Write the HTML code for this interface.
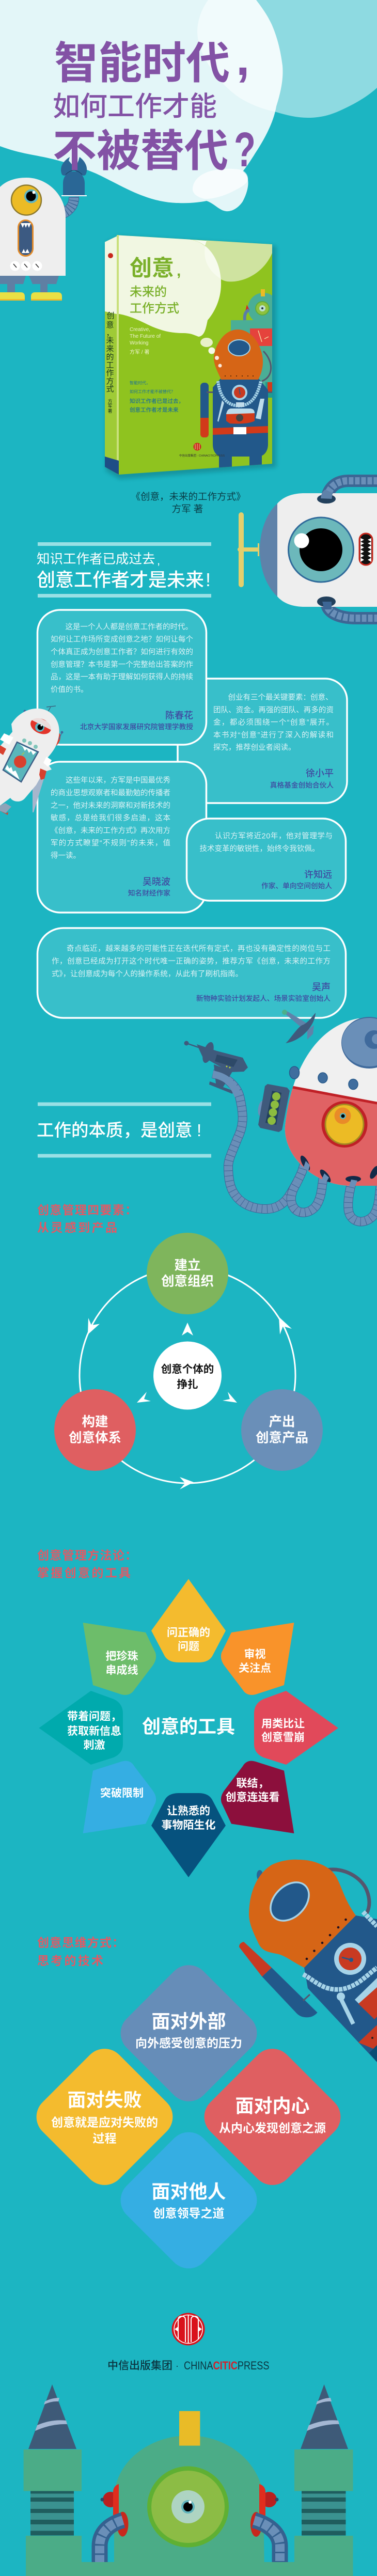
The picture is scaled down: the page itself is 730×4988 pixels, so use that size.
<!DOCTYPE html>
<html lang="zh"><head><meta charset="utf-8"><title>智能时代，如何工作才能不被替代？</title>
<style>
html,body{margin:0;padding:0;background:#1cb5c2}
svg{display:block}
text{font-family:"Liberation Sans","Noto Sans CJK SC",sans-serif}
.t{font-size:14.5px;fill:#dcf2f5}
.n{font-size:18px;fill:#3f49a0;text-anchor:end;font-weight:500}
.s{font-size:13.7px;fill:#3f49a0;text-anchor:end;font-weight:500}
.h{font-size:23px;fill:#e05a66;font-weight:bold}
.w{fill:#fff;font-weight:bold;text-anchor:middle}
.p{font-size:21px}.q{font-size:23px}.b{font-size:36px}.c{font-size:25.5px}
.sp{font-size:15px;fill:#14331a;text-anchor:middle}
</style></head><body>
<svg xmlns="http://www.w3.org/2000/svg" width="730" height="4988" viewBox="0 0 730 4988">
<rect width="730" height="4988" fill="#1cb5c2"/>

<!-- top blobs -->
<path d="M0,0 L0,283 C40,298 70,300 102,308 C130,315 160,325 186,336 C220,352 250,370 279,380 C300,388 325,393 345,393 C365,394 385,392 400,389 C415,394 425,408 438,409 C450,410 462,402 470,390 C478,375 482,360 480,348 C479,340 475,335 470,332 C478,322 486,310 494,297 C515,265 530,235 535,206 C545,175 549,150 547,127 C543,95 536,70 526,47 C517,28 506,13 496,0 Z" fill="#fff" fill-opacity=".88"/>
<path d="M403,0 C390,18 382,40 382,63 C383,82 388,97 396,111 C410,140 435,170 465,190 C490,205 512,212 535,217 C555,223 575,228 596,228 C617,228 635,224 652,217 C680,205 708,190 730,170 L730,0 Z" fill="#fff" fill-opacity=".5"/>
<path d="M373,366 C373,352 385,338 405,332 C425,326 455,325 470,330 C478,335 481,342 480,349 C476,358 465,363 456,368 C440,377 415,386 396,385 C382,382 373,375 373,366 Z" fill="#fff" fill-opacity=".7"/>

<!-- top-left robot -->
<g>
<path d="M116,415 C130,412 144,400 143,381" fill="none" stroke="#3b6695" stroke-width="20"/>
<path d="M116,415 C130,412 144,400 143,381" fill="none" stroke="#6a8fb8" stroke-width="18"/>
<path d="M116,415 C130,412 144,400 143,381" fill="none" stroke="#3b6695" stroke-width="18" stroke-dasharray="1.5 5"/>
<ellipse cx="120" cy="412" rx="5" ry="16" fill="#4a7098" transform="rotate(10 120 412)"/>
<path d="M122,379 L122,355 C122,340 132,332 143,332 C154,332 164,340 164,355 L164,379 Z" fill="#2a6796"/>
<rect x="119" y="378" width="49" height="2" fill="#fff"/>
<path d="M135,304 C122,312 114,325 120,338 C125,343 130,338 139,332 C141,330 142,327 142,327 L139,318 L133,311 Z" fill="#2a6796"/>
<path d="M154,304 C165,312 172,325 166,338 C162,343 156,338 147,332 C145,330 145,327 145,327 L149,318 L152,311 Z" fill="#2a6796"/>
<path d="M127,338 Q143,322 159,338" fill="none" stroke="#173a5c" stroke-width="1"/>
<path d="M0,362 C12,350 30,344 51,344 C92,344 127,378 127,420 L127,534 L0,534 Z" fill="#eeeeee"/>
<ellipse cx="51" cy="387.500" rx="29" ry="29" fill="#ecbb25" stroke="#8d7a2e" stroke-width="2.500"/>
<circle cx="60.500" cy="380" r="13.500" fill="#5fb5c2"/><circle cx="60" cy="380" r="9.500" fill="#000"/><circle cx="65.500" cy="372.500" r="3" fill="#fff"/>
<rect x="35.500" y="426.500" width="28" height="69" rx="14" fill="#3c5a82" stroke="#e28b2a" stroke-width="3"/>
<path d="M40,432 L44,441 L47,434 L50,441 L53,434 L56,441 L60,432 Z M42,490 L46,482 L49,489 L53,482 L57,490 Z" fill="#fff"/>
<circle cx="29" cy="515" r="9.500" fill="#fff"/><circle cx="50" cy="515" r="9.500" fill="#fff"/><circle cx="72" cy="515" r="9.500" fill="#fff"/>
<path d="M26,511 L32,518 M47,511 L53,518 M69,511 L75,518" stroke="#222" stroke-width="1.500"/>
<path d="M0,534 L50,534 L45,550 L0,550 Z M56,534 L114,534 L109,550 L63,550 Z" fill="#5f7fa3"/>
<rect x="14" y="550" width="15" height="17" fill="#5f7fa3"/><rect x="78" y="550" width="14" height="17" fill="#5f7fa3"/>
<path d="M0,566 L40,566 Q48,566 48,574 L48,582 L0,582 Z M68,566 L112,566 Q120,566 120,574 L120,582 L60,582 L60,574 Q60,566 68,566 Z" fill="#e9e044"/>
<rect x="0" y="579" width="48" height="3" fill="#f0ba2a"/><rect x="60" y="579" width="60" height="3" fill="#f0ba2a"/>
</g>

<!-- title -->
<g fill="#8352a5" font-weight="bold">
<text x="105" y="152" font-size="85">智能时代</text>
<text x="457" y="145" font-size="95" style="font-family:'Liberation Sans'">,</text>
<text x="102" y="224" font-size="53" font-weight="500">如何工作才能</text>
<text x="102" y="322" font-size="85">不被替代</text>
<text x="453" y="322" font-size="95" textLength="42" lengthAdjust="spacingAndGlyphs" style="font-family:'Liberation Sans'">?</text>
</g>

<!-- book -->
<polygon points="205,470 230,457 535,476 535,905 232,928 205,912" fill="#0d6d77" opacity=".45" filter="url(#bl)"/>
<defs><filter id="bl"><feGaussianBlur stdDeviation="4"/></filter><clipPath id="front"><polygon points="230,455.500 527,473 527,898 230,919"/></clipPath></defs>
<polygon points="203,468.600 230,455.500 230,919 203,904" fill="#9fcb36"/>
<path d="M203,468.600 L230,455.500 L230,609 L203,603 Z" fill="#f1f7e2"/>
<polygon points="226,455 230,455 230,919 226,917" fill="#c9e07c"/>
<polygon points="203,884 230,892 230,919 203,904" fill="#1e4d86"/>
<polygon points="230,455.500 527,473 527,898 230,919" fill="#8fc31f"/>
<g clip-path="url(#front)">
<path d="M400,463 L527,473 L527,490 C510,530 470,548 440,545 C410,540 390,500 400,463 Z" fill="#cfe3a0"/>
<path d="M230,455 L363,463 C400,466 428,500 428,550 C428,580 415,605 402,620 C398,640 395,650 385,652 C378,650 372,645 354,645 C330,645 310,640 285,628 C265,618 245,610 230,608 Z" fill="#f1f7e2"/>
<path d="M370,464 L400,466 C392,490 395,520 428,540 L428,550 C428,505 405,470 370,464 Z" fill="#f7fbee"/>
<ellipse cx="400" cy="663" rx="12" ry="9" fill="#e8f0c8"/><circle cx="410" cy="679" r="6.500" fill="#f5f8e6"/>
<!-- book robot -->
<rect x="447" y="620" width="80" height="130" fill="#4aae96"/>
<circle cx="510" cy="597" r="30" fill="#4aae96"/>
<rect x="505" y="560" width="8" height="14" fill="#ecbb25"/>
<circle cx="508" cy="597" r="13" fill="#8fc13e" stroke="#60ad3c" stroke-width="2"/><circle cx="508" cy="597" r="6" fill="#bfe0d0"/><circle cx="508" cy="597" r="2" fill="#234"/>
<path d="M478,590 L483,600 L475,603 Z" fill="#d52a1e"/>
<path d="M474,620 Q472,605 482,600" fill="none" stroke="#5a7ea8" stroke-width="6"/>
<rect x="484" y="636" width="43" height="34" fill="#e5433c"/>
<path d="M500,640 L507,662 M520,652 L512,656" stroke="#f3d7a0" stroke-width="1.500"/>
<path d="M510,680 C530,700 530,730 507,738" fill="none" stroke="#55566e" stroke-width="3"/>
<rect x="514" y="740" width="13" height="30" fill="#1e9c8f"/><rect x="518" y="740" width="9" height="18" fill="#d13a1a"/>
<rect x="388" y="741" width="16" height="106" rx="7" fill="#22588a"/>
<path d="M388,809 L404,809 L404,840 Q404,847 397,847 L395,847 Q388,847 388,840 Z" fill="#d13a1a"/>
<rect x="400" y="758" width="15" height="3" fill="#55566e"/><rect x="510" y="758" width="17" height="3" fill="#55566e"/>
<path d="M412,750 L428,732 L500,732 L519,755 L519,860 C519,875 510,884 500,884 L430,884 C420,884 412,875 412,860 Z" fill="#22588a"/>
<path d="M461,638 C480,638 498,655 505,678 C513,700 508,720 500,735 L428,735 C423,722 415,710 414,695 C414,675 430,638 461,638 Z" fill="#d66516"/>
<ellipse cx="463" cy="673.500" rx="21" ry="15.500" fill="#22588a" stroke="#a6d3e8" stroke-width="2"/>
<g fill="#3a1a08"><circle cx="436" cy="728" r="1"/><circle cx="447" cy="728" r="1"/><circle cx="458" cy="728" r="1"/><circle cx="469" cy="728" r="1"/><circle cx="480" cy="728" r="1"/><circle cx="490" cy="728" r="1"/></g>
<ellipse cx="420" cy="693" rx="4" ry="4" fill="#fbe8d8"/><ellipse cx="426" cy="708" rx="3.500" ry="3.500" fill="#fbe8d8"/>
<path d="M422,738 C426,770 440,785 463,786 C485,785 498,770 505,738" fill="none" stroke="#a6d3e8" stroke-width="6" stroke-dasharray="3.500 1"/>
<circle cx="464" cy="760" r="15" fill="#a6d3e8"/><circle cx="464" cy="760" r="11" fill="#c83a22"/><path d="M463,752 L465,764" stroke="#22588a" stroke-width="1.500"/>
<rect x="457" y="779" width="16" height="9" fill="#c0dcea"/>
<path d="M430,775 L421,815 L423,817 L434,780 Z M512,772 L505,812 L495,810 L504,772 Z" fill="#bcdcec"/>
<path d="M438,802 Q440,791 448,791 L483,791 Q493,791 493,802 L493,815 Q480,822 445,820 L438,815 Z" fill="#d13a1a"/>
<path d="M438,802 Q440,791 448,791 L483,791 Q493,791 493,800 Z" fill="#bcdcec"/>
<ellipse cx="464" cy="809" rx="7" ry="7" fill="#444"/>
<polygon points="412,829 519,825 519,838 412,842" fill="#d13a1a"/>
<rect x="452" y="827" width="25" height="14" fill="#fff"/>
<rect x="424" y="880" width="25" height="30" fill="#22588a"/><rect x="483" y="880" width="24" height="30" fill="#22588a"/>
</g>
<circle cx="382" cy="865" r="7.500" fill="#c8281d"/><path d="M378,860 V870 M382,859 V871 M386,860 V870" stroke="#f5d9a0" stroke-width="1"/>
<circle cx="214" cy="495" r="5" fill="#c8281d"/>
<g fill="#7ab02a" font-weight="bold"><text x="251" y="534" font-size="43">创意</text><text x="342" y="534" font-size="30" style="font-family:'Liberation Sans'">,</text><text x="251" y="573" font-size="24" font-weight="500">未来的</text><text x="251" y="605" font-size="24" font-weight="500">工作方式</text></g>
<g fill="#ecf3cc" font-size="10"><text x="251" y="641">Creative,</text><text x="251" y="654">The Future of</text><text x="251" y="667">Working</text><text x="251" y="685">方军 / 著</text></g>
<g fill="#1d7093"><text x="251" y="744" font-size="8">智能时代，</text><text x="251" y="761" font-size="8">如何工作才能不被替代？</text><text x="251" y="780" font-size="10.500" font-weight="500">知识工作者已是过去，</text><text x="251" y="797" font-size="10.500" font-weight="500">创意工作者才是未来</text></g>
<text x="347" y="884" font-size="5.500" fill="#333">中信出版集团 · CHINACITICPRESS</text>
<g>
<text class="sp" x="214" y="616">创</text><text class="sp" x="213" y="634">意</text><text class="sp" x="213" y="650">，</text><text class="sp" x="213" y="664">未</text><text class="sp" x="213" y="680">来</text><text class="sp" x="213" y="696">的</text><text class="sp" x="213" y="712">工</text><text class="sp" x="213" y="727">作</text><text class="sp" x="213" y="743">方</text><text class="sp" x="213" y="758">式</text>
<text class="sp" x="213" y="780" style="font-size:9px">方</text><text class="sp" x="213" y="789" style="font-size:9px">军</text><text class="sp" x="213" y="799" style="font-size:9px">著</text>
</g>

<text x="364.500" y="968" font-size="18.500" fill="#0a3e48" text-anchor="middle">《创意，未来的工作方式》</text>
<text x="363" y="992" font-size="18.500" fill="#0a3e48" text-anchor="middle">方军 著</text>

<!-- right robot 1 -->
<g>
<path d="M633,965 C636,945 650,931 675,931 L730,931" fill="none" stroke="#3d6694" stroke-width="24"/>
<path d="M633,965 C636,945 650,931 675,931 L730,931" fill="none" stroke="#6a8fb8" stroke-width="14" stroke-dasharray="9 3"/>
<path d="M633,1165 C630,1185 655,1197 690,1197 L730,1197" fill="none" stroke="#3d6694" stroke-width="24"/>
<path d="M633,1165 C630,1185 655,1197 690,1197 L730,1197" fill="none" stroke="#6a8fb8" stroke-width="14" stroke-dasharray="9 3"/>
<rect x="462" y="992" width="10" height="145" rx="5" fill="#e4cf6c"/>
<rect x="460" y="1060" width="42" height="8" rx="4" fill="#e4cf6c"/>
<rect x="499" y="1052" width="3" height="25" fill="#e4cf6c"/>
<path d="M537,975 C515,995 503,1030 503,1065 C503,1100 515,1135 537,1155 Z" fill="#5f82a9"/>
<path d="M537,975 C550,960 570,955 590,955 L730,955 L730,1175 L590,1175 C570,1175 550,1170 537,1155 Z" fill="#eeeeee"/>
<ellipse cx="621.500" cy="1064.500" rx="63" ry="62.500" fill="#6cb8bb" stroke="#2f6a9a" stroke-width="3"/>
<ellipse cx="621.500" cy="1064.500" rx="41.500" ry="41.500" fill="#000"/>
<ellipse cx="584" cy="1047" rx="14.500" ry="14.500" fill="#fff"/>
<rect x="696" y="1033" width="25" height="61" rx="12" fill="#111" stroke="#c8281d" stroke-width="3"/>
<path d="M698,1042 L705,1045 L698,1049 L705,1052 L698,1056 L705,1060 L698,1064 L705,1068 L698,1072 L705,1076 L698,1080 L705,1084 L698,1088 Z M719,1042 L712,1045 L719,1049 L712,1052 L719,1056 L712,1060 L719,1064 L712,1068 L719,1072 L712,1076 L719,1080 L712,1084 L719,1088 Z" fill="#fff"/>
<ellipse cx="632" cy="966" rx="18" ry="9" fill="#22405c"/>
<path d="M621,965 C622,955 626,950 630,948 L645,955 C642,958 644,962 642,966 Z" fill="#5f82a9"/>
<ellipse cx="632" cy="1165" rx="18" ry="10" fill="#22405c"/>
<path d="M624,1165 C628,1175 625,1180 625,1180 L642,1180 L642,1165 Z" fill="#3d6694"/>
</g>

<!-- heading 1 -->
<rect x="73" y="1050" width="336" height="7" fill="#99e0e5"/><rect x="73" y="1150" width="336" height="7" fill="#99e0e5"/>
<text x="71" y="1091" font-size="25.500" fill="#fff">知识工作者已成过去</text><text x="304" y="1093" font-size="22" fill="#fff" style="font-family:'Liberation Sans'">,</text>
<text x="71" y="1135" font-size="36" fill="#fff" font-weight="500">创意工作者才是未来</text><text x="398" y="1135" font-size="36" fill="#fff" style="font-family:'Liberation Sans'">!</text>

<!-- cards -->
<g fill="#38bfca" stroke="#fff" stroke-width="3.500">
<rect x="344" y="1314" width="328" height="241" rx="42"/>
<rect x="72.500" y="1475" width="327" height="292" rx="44"/>
<rect x="361.500" y="1585" width="308" height="159" rx="44"/>
<rect x="72.500" y="1181" width="327" height="261" rx="44"/>
<rect x="72.500" y="1797" width="597" height="174" rx="50"/>
</g>
<g>
<text class="t" x="126.500" y="1218.400">这是一个人人都是创意工作者的时代。</text>
<text class="t" x="98" y="1242.700" textLength="276">如何让工作场所变成创意之地？如何让每个</text>
<text class="t" x="98" y="1267" textLength="276">个体真正成为创意工作者？如何进行有效的</text>
<text class="t" x="98" y="1291.300" textLength="276">创意管理？本书是第一个完整给出答案的作</text>
<text class="t" x="98" y="1315.600" textLength="276">品，这是一本有助于理解如何获得人的持续</text>
<text class="t" x="98" y="1339.800">价值的书。</text>
<text class="n" x="374" y="1391.500">陈春花</text><text class="s" x="374" y="1412">北京大学国家发展研究院管理学教授</text>

<text class="t" x="441.500" y="1355">创业有三个最关键要素：创意、</text>
<text class="t" x="413" y="1379.300" textLength="233">团队、资金。再强的团队、再多的资</text>
<text class="t" x="413" y="1403.600" textLength="233">金，都必须围绕一个“创意”展开。</text>
<text class="t" x="413" y="1427.900" textLength="233">本书对“创意”进行了深入的解读和</text>
<text class="t" x="413" y="1452.200">探究，推荐创业者阅读。</text>
<text class="n" x="646" y="1503.500">徐小平</text><text class="s" x="646" y="1525">真格基金创始合伙人</text>

<text class="t" x="127" y="1515.700">这些年以来，方军是中国最优秀</text>
<text class="t" x="98" y="1540" textLength="232">的商业思想观察者和最勤勉的传播者</text>
<text class="t" x="98" y="1564.300" textLength="232">之一，他对未来的洞察和对新技术的</text>
<text class="t" x="98" y="1588.500" textLength="232">敏感，总是给我们很多启迪，这本</text>
<text class="t" x="98" y="1612.800" textLength="232">《创意，未来的工作方式》再次用方</text>
<text class="t" x="98" y="1637.100" textLength="232">军的方式瞭望“不规则”的未来，值</text>
<text class="t" x="98" y="1661.400">得一读。</text>
<text class="n" x="330" y="1713.500">吴晓波</text><text class="s" x="330" y="1734">知名财经作家</text>

<text class="t" x="416" y="1623.500" textLength="228">认识方军将近20年，他对管理学与</text>
<text class="t" x="386.500" y="1647.800">技术变革的敏锐性，始终令我钦佩。</text>
<text class="n" x="643" y="1699.500">许知远</text><text class="s" x="643" y="1720">作家、单向空间创始人</text>

<text class="t" x="129" y="1841.500" textLength="511">奇点临近，越来越多的可能性正在迭代所有定式，再也没有确定性的岗位与工</text>
<text class="t" x="100" y="1866" textLength="540">作，创意已经成为打开这个时代唯一正确的姿势，推荐方军《创意，未来的工作方</text>
<text class="t" x="100" y="1890.500" textLength="370">式》，让创意成为每个人的操作系统，从此有了刷机指南。</text>
<text class="n" x="640" y="1917.500">吴声</text><text class="s" x="640" y="1938">新物种实验计划发起人、场景实验室创始人</text>
</g>

<!-- astronaut robot -->
<g>
<path d="M98,1369 L90,1383 M90,1369 L108,1367" stroke="#3a5573" stroke-width="1.200" fill="none"/>
<ellipse cx="41" cy="1396" rx="6" ry="14" fill="#d8402e" transform="rotate(20 41 1396)"/>
<circle cx="48" cy="1377" r="2.500" fill="#3f6a9c"/><path d="M48,1377 L46,1390" stroke="#3f6a9c" stroke-width="1.500"/>
<ellipse cx="110" cy="1432" rx="6" ry="13" fill="#d8402e" transform="rotate(20 110 1432)"/>
<circle cx="120" cy="1418" r="2.500" fill="#3f6a9c"/><path d="M120,1418 L114,1432" stroke="#3f6a9c" stroke-width="1.500"/>
<path d="M63,1503 L87,1503 L84,1511 L65,1573 L63,1573 Z" fill="#a6b6cc"/>
<path d="M0,1445 L24,1417 L22,1402 C35,1380 60,1368 82,1373 C105,1378 118,1400 114,1425 C110,1450 96,1462 88,1472 L100,1490 L84,1495 L70,1520 L48,1546 C40,1555 25,1553 20,1545 L0,1560 Z" fill="#eeeeee"/>
<path d="M0,1560 L10,1555 L22,1562 L10,1575 L0,1570 Z" fill="#8fa3b8"/><path d="M0,1570 L12,1575 L16,1572 L15,1578 Z" fill="#d8402e"/>
<path d="M8,1420 L26,1428 L18,1442 L0,1432 Z M90,1465 L100,1472 L93,1485 L84,1477 Z" fill="#fff"/>
<path d="M0,1443 L12,1450 L6,1462 L0,1458 Z M78,1488 L90,1493 L86,1508 L79,1510 L76,1500 Z" fill="#d8402e"/>
<polygon points="33,1437 74,1456 41,1514 6,1491" fill="#5ab6bb" stroke="#3c5e86" stroke-width="2.500"/>
<path d="M37,1441 L70,1456 L64,1462 L60,1454 L56,1458 L52,1450 L48,1454 L44,1446 Z M10,1489 L14,1481 L18,1488 L22,1485 L25,1494 L30,1492 L34,1500 L38,1510 Z" fill="#fff"/>
<circle cx="39" cy="1475" r="12" fill="#d8402e"/><path d="M42,1462 L47,1457" stroke="#b5c83e" stroke-width="1.500"/>
<circle cx="47" cy="1434" r="4" fill="#7fc5ba"/><circle cx="58" cy="1439" r="4" fill="#7fc5ba"/><circle cx="69" cy="1446" r="4" fill="#7fc5ba"/>
<ellipse cx="79" cy="1406" rx="21" ry="14" fill="#e2352a" transform="rotate(25 79 1406)"/>
<circle cx="77" cy="1408" r="9" fill="#5fb5c2"/><circle cx="78" cy="1408" r="5.500" fill="#000"/><circle cx="80" cy="1405" r="1.500" fill="#fff"/>
<path d="M59,1393 L100,1414 L98,1400 L72,1388 Z" fill="#eeeeee" opacity=".9"/>
</g>

<!-- red robot -->
<g>
<defs><clipPath id="egg"><path d="M730,1972 L694,1972 C620,1985 565,2060 552,2180 C548,2240 610,2296 680,2296 L730,2296 Z"/></clipPath></defs>
<g fill="none" stroke-linecap="butt">
<path d="M412,2079 C440,2085 461,2105 465,2128 C472,2160 472,2180 460,2204 C450,2230 442,2245 442,2258 C442,2280 445,2295 450,2305 C460,2325 480,2340 512,2341 C535,2342 552,2330 562,2312 C572,2295 578,2285 585,2268 L592,2245" stroke="#3f6494" stroke-width="18"/>
<path d="M412,2079 C440,2085 461,2105 465,2128 C472,2160 472,2180 460,2204 C450,2230 442,2245 442,2258 C442,2280 445,2295 450,2305 C460,2325 480,2340 512,2341 C535,2342 552,2330 562,2312 C572,2295 578,2285 585,2268 L592,2245" stroke="#6a8fb8" stroke-width="16"/>
<path d="M412,2079 C440,2085 461,2105 465,2128 C472,2160 472,2180 460,2204 C450,2230 442,2245 442,2258 C442,2280 445,2295 450,2305 C460,2325 480,2340 512,2341 C535,2342 552,2330 562,2312 C572,2295 578,2285 585,2268 L592,2245" stroke="#3f6494" stroke-width="16" stroke-dasharray="1 9"/>
<path d="M628,2272 C622,2295 625,2315 612,2335 C600,2350 580,2352 570,2340 C558,2325 565,2305 575,2290" stroke="#3f6494" stroke-width="18"/>
<path d="M628,2272 C622,2295 625,2315 612,2335 C600,2350 580,2352 570,2340 C558,2325 565,2305 575,2290" stroke="#6a8fb8" stroke-width="16"/>
<path d="M628,2272 C622,2295 625,2315 612,2335 C600,2350 580,2352 570,2340 C558,2325 565,2305 575,2290" stroke="#3f6494" stroke-width="16" stroke-dasharray="1 9"/>
<path d="M684,2279 C678,2300 672,2325 675,2345 C680,2368 705,2372 722,2355 C735,2340 735,2310 738,2280" stroke="#3f6494" stroke-width="18"/>
<path d="M684,2279 C678,2300 672,2325 675,2345 C680,2368 705,2372 722,2355 C735,2340 735,2310 738,2280" stroke="#6a8fb8" stroke-width="16"/>
<path d="M684,2279 C678,2300 672,2325 675,2345 C680,2368 705,2372 722,2355 C735,2340 735,2310 738,2280" stroke="#3f6494" stroke-width="16" stroke-dasharray="1 9"/>
</g>
<g clip-path="url(#egg)">
<rect x="540" y="1960" width="200" height="350" fill="#f0f0f0"/>
<polygon points="540,2098 730,2136 730,2310 540,2310" fill="#e06264"/>
<line x1="560" y1="2104" x2="730" y2="2136" stroke="#c02026" stroke-width="5"/>
<ellipse cx="591" cy="2252" rx="6" ry="16" fill="#132a48" transform="rotate(-28 591 2252)"/>
<ellipse cx="630" cy="2277" rx="6" ry="15" fill="#132a48" transform="rotate(-38 630 2277)"/>
<ellipse cx="684" cy="2283" rx="15" ry="6" fill="#132a48"/>
<ellipse cx="725" cy="2270" rx="6" ry="14" fill="#132a48" transform="rotate(30 725 2270)"/>
<path d="M585,2268 L592,2248 L600,2256 L590,2296 L572,2290 Z M628,2272 L637,2280 L628,2296 L618,2296 Z M680,2284 L692,2286 L688,2296 L676,2296 Z" fill="#6a8fb8"/>
</g>
<ellipse cx="715" cy="2019" rx="54" ry="50" fill="#3f6a9c"/><ellipse cx="715" cy="2018" rx="53" ry="47" fill="#6a8fb8"/>
<circle cx="724" cy="2013" r="18" fill="#3f6a9c"/><circle cx="730" cy="2012" r="10" fill="#6a8fb8"/>
<ellipse cx="570" cy="2077" rx="9.500" ry="12" fill="#3f6d9e" stroke="#27598a" stroke-width="1.500"/>
<ellipse cx="625" cy="2087" rx="9" ry="10" fill="#3f6d9e" stroke="#27598a" stroke-width="1.500"/>
<ellipse cx="684" cy="2099.500" rx="9" ry="10" fill="#3f6d9e" stroke="#27598a" stroke-width="1.500"/>
<ellipse cx="667" cy="2177" rx="44.500" ry="45" fill="#c02026"/>
<ellipse cx="667" cy="2177" rx="37" ry="38.500" fill="#ecbb25" stroke="#a48a22" stroke-width="3"/>
<circle cx="663.500" cy="2160.500" r="16" fill="#e98b28"/><circle cx="664" cy="2161" r="6" fill="#5fb5c2"/><circle cx="664" cy="2161" r="3.500" fill="#000"/>
<ellipse cx="506" cy="2146" rx="6" ry="15" fill="#6a8fb8" transform="rotate(10 506 2146)"/>
<polygon points="518,2099 556,2106 561,2112 546,2188 540,2192 504,2184 500,2178 513,2103" fill="#3f5a7c"/>
<polygon points="527,2112 545,2116 535,2178 514,2174" fill="#22405c"/>
<circle cx="535" cy="2123" r="8" fill="#8cbc3f"/><circle cx="532" cy="2139" r="8" fill="#8cbc3f"/><circle cx="528.500" cy="2154" r="8" fill="#8cbc3f"/><circle cx="526" cy="2170" r="8" fill="#8cbc3f"/>
<!-- dish -->
<path d="M551,1962 L590,1995 L600,1985 L556,1958 Z" fill="#5f82a9"/>
<path d="M595,1995 L608,1985 L606,2002 L595,2013 Z" fill="#5f82a9"/>
<path d="M611,1961 C610,1985 585,2015 553,2020 C560,2015 575,1990 585,1985 C595,1982 605,1968 611,1961 Z" fill="#3f5a7c"/>
<circle cx="551" cy="1960" r="5" fill="#4bb08a"/>
<!-- gun -->
<circle cx="361" cy="2020" r="4.500" fill="#3f5a7c"/>
<path d="M361,2020 L390,2030" stroke="#3f5a7c" stroke-width="2.500"/>
<polygon points="381,2022 420,2035 470,2048 480,2067 472,2075 445,2076 392,2046" fill="#3f5a7c"/>
<ellipse cx="403" cy="2038" rx="9" ry="21" fill="#3f5a7c" transform="rotate(18 403 2038)"/>
<polygon points="420,2042 460,2052 452,2066 416,2055" fill="#2d4968"/>
<polygon points="414,2061 450,2075 432,2105 452,2112 450,2118 405,2100 406,2094 418,2098" fill="#3f5a7c"/>
<circle cx="439" cy="2065" r="1.500" fill="#b7cf3d"/><circle cx="445" cy="2067" r="1.500" fill="#b7cf3d"/>
<path d="M412,2080 C440,2085 452,2100 461,2122" fill="none" stroke="#6a8fb8" stroke-width="14"/>
</g>

<!-- heading 2 -->
<rect x="73" y="2134.500" width="336" height="7" fill="#99e0e5"/><rect x="73" y="2234.500" width="336" height="7" fill="#99e0e5"/>
<text x="71" y="2200" font-size="33.500" fill="#fff" font-weight="500">工作的本质，是创意</text><text x="381" y="2200" font-size="33" fill="#fff" style="font-family:'Liberation Sans'">!</text>

<!-- section 4 -->
<text class="h" x="72" y="2351" textLength="193" lengthAdjust="spacing">创意管理四要素：</text>
<text class="h" x="72" y="2385" textLength="155">从灵感到产品</text>
<circle cx="363" cy="2663" r="209" fill="none" stroke="#fff" stroke-width="3"/>
<circle cx="363" cy="2466" r="79" fill="#7fb55c"/>
<circle cx="184" cy="2769" r="79" fill="#df5f61"/>
<circle cx="546" cy="2769" r="79" fill="#6a8fb8"/>
<circle cx="363" cy="2663.500" r="66" fill="#fff"/>
<g fill="#fff">
<polygon points="170,2584 171,2552 177,2566 193,2563.500"/>
<polygon points="540,2550 542,2584 548,2568 565,2573"/>
<polygon points="375,2870 348,2860 358.500,2872 348,2884"/>
<polygon points="363,2561 352,2586 363,2579 374,2586"/>
<polygon points="265,2716 284,2695 279,2709 292,2713"/>
<polygon points="459,2716 441,2695 445,2709 431,2712"/>
</g>
<text class="w c" x="363" y="2458.400">建立</text><text class="w c" x="363" y="2489.400">创意组织</text>
<text class="w c" x="184" y="2761.400">构建</text><text class="w c" x="184" y="2792.400">创意体系</text>
<text class="w c" x="546" y="2761.400">产出</text><text class="w c" x="546" y="2792.400">创意产品</text>
<g fill="#111" font-weight="bold" font-size="20.500" text-anchor="middle"><text x="363" y="2658.200">创意个体的</text><text x="363" y="2687.600">挣扎</text></g>

<!-- section 5 -->
<text class="h" x="72" y="3019.500" textLength="193">创意管理方法论：</text>
<text class="h" x="72" y="3053.500" textLength="181">掌握创意的工具</text>
<path d="M365,3057.500 L437,3157.500 L412,3205 Q405,3219 385,3219 L346,3219 Q325,3219 318,3205 L293,3157.500 Z" fill="#f4bb2e"/>
<path d="M569.400,3142 L448,3161 L429,3200 Q425,3213 435,3226 L470,3272 Q478,3285 495,3281 L550,3263 Z" fill="#f9932a"/>
<path d="M655,3346 L554,3274 L510,3290 Q492,3298 492,3318 L492,3377 Q492,3395 510,3403 L554,3417 Z" fill="#e1495a"/>
<path d="M569.400,3550 L448,3531.500 L429,3491 Q425,3479 435,3466 L470,3420 Q478,3406 495,3411 L550,3428.500 Z" fill="#8c0f3c"/>
<path d="M365,3635 L437,3535 L412,3487 Q405,3472 385,3472 L346,3472 Q325,3472 318,3487 L293,3535 Z" fill="#06527e"/>
<path d="M160.600,3550 L282,3531.500 L301,3491 Q305,3479 295,3466 L260,3420 Q252,3406 235,3411 L180,3428.500 Z" fill="#35aee3"/>
<path d="M75.400,3346 L176,3274 L220,3290 Q238,3298 238,3318 L238,3377 Q238,3395 220,3403 L176,3417 Z" fill="#00aaad"/>
<path d="M160.600,3142 L282,3161 L301,3200 Q305,3213 295,3226 L260,3272 Q252,3285 235,3281 L180,3263 Z" fill="#6dbd6a"/>
<text class="w b" x="365" y="3355.500">创意的工具</text>
<g class="w p">
<text x="365" y="3168">问正确的</text><text x="365" y="3195">问题</text>
<text x="493.500" y="3210">审视</text><text x="493.500" y="3237">关注点</text>
<text x="548" y="3344.300">用类比让</text><text x="548" y="3371">创意雪崩</text>
<text x="489" y="3460">联结，</text><text x="489" y="3487">创意连连看</text>
<text x="365" y="3513.500">让熟悉的</text><text x="365" y="3541">事物陌生化</text>
<text x="236" y="3479">突破限制</text>
<text x="182.500" y="3330.500">带着问题，</text><text x="182.500" y="3359">获取新信息</text><text x="182.500" y="3386">刺激</text>
<text x="236" y="3214">把珍珠</text><text x="236" y="3241">串成线</text>
</g>

<!-- diver robot rotated -->
<g>
<path d="M633,3621 C665,3615 700,3635 710,3660 C718,3680 715,3695 710,3705" fill="none" stroke="#55566e" stroke-width="7"/>
<ellipse cx="503" cy="3631" rx="6" ry="10" fill="#2a6796"/>
<polygon points="689,3709 589,3810 596,3850 730,3993 730,3716" fill="#22588a"/>
<path d="M482,3707 C482,3670 495,3630 526,3611 C545,3602 565,3600 577,3601 C600,3601 612,3606 624,3611 C640,3618 650,3630 654,3640 C664,3660 668,3680 689,3709 L589,3810 C565,3798 550,3785 535,3783 C520,3780 507,3778 500,3762 C492,3745 482,3725 482,3707 Z" fill="#d66516"/>
<ellipse cx="561" cy="3682" rx="43" ry="30" fill="#22588a" stroke="#a6d3e8" stroke-width="3.500" transform="rotate(-45 561 3682)"/>
<g fill="#1d1020"><circle cx="594" cy="3793" r="2.300"/><circle cx="608.500" cy="3777.500" r="2.300"/><circle cx="624" cy="3762" r="2.300"/><circle cx="639" cy="3747" r="2.300"/><circle cx="655" cy="3732" r="2.300"/><circle cx="669.500" cy="3717" r="2.300"/></g>
<path d="M463,3770 Q463,3762 472,3760 L526,3810 L507.500,3827.500 Z" fill="#c83a22"/>
<path d="M507.500,3827.500 L526,3810 L614.600,3897 Q605,3908 590,3906 Q580,3905 573,3897 Z" fill="#22588a"/>
<path d="M587,3874 L600,3862" stroke="#55566e" stroke-width="3"/>
<circle cx="678" cy="3793" r="31" fill="#a6d3e8"/><circle cx="678" cy="3793" r="22" fill="#c83a22"/>
<path d="M662,3790 L680,3795" stroke="#22588a" stroke-width="2.500"/><circle cx="680" cy="3795" r="4" fill="#22588a"/>
<path d="M587,3823 C610,3835 625,3855 660,3852 C690,3848 710,3825 730,3810" fill="none" stroke="#a6d3e8" stroke-width="9" stroke-dasharray="7 1.500"/>
<path d="M703,3702 L730,3730" fill="none" stroke="#a6d3e8" stroke-width="9" stroke-dasharray="7 1.500"/>
<path d="M659,3868 L684,3919" stroke="#a6d3e8" stroke-width="8"/><circle cx="660" cy="3866" r="8" fill="#a6d3e8"/>
<path d="M687,3872 L730,3830 L730,3848 L695,3880 Z" fill="#a6d3e8"/>
<path d="M694,3880 L730,3848 L730,3905 L725,3910 Z" fill="#c83a22"/>
<polygon points="694,3955 730,3921 730,3970" fill="#c83a22"/>
<polygon points="715,3975 730,3960 730,3993" fill="#0b4d74"/>
<circle cx="721" cy="3946" r="2" fill="#222"/>
</g>

<!-- section 6 -->
<text class="h" x="72" y="3769.500" textLength="168">创意思维方式：</text>
<text class="h" x="72" y="3804.500" textLength="128">思考的技术</text>
<rect x="260.500" y="3832" width="210" height="210" rx="40" fill="#668db8" transform="rotate(45 365.500 3937)"/>
<rect x="97.500" y="3994" width="210" height="210" rx="40" fill="#f4bb2e" transform="rotate(45 202.500 4099)"/>
<rect x="422.500" y="3994" width="210" height="210" rx="40" fill="#df5f61" transform="rotate(45 527.500 4099)"/>
<rect x="260.500" y="4155.500" width="210" height="210" rx="40" fill="#35aee3" transform="rotate(45 365.500 4260.500)"/>
<g class="w">
<text class="b" x="365.500" y="3926.300">面对外部</text><text class="q" x="365.500" y="3964">向外感受创意的压力</text>
<text class="b" x="202.500" y="4078.300">面对失败</text><text class="q" x="202.500" y="4117.500">创意就是应对失败的</text><text class="q" x="202.500" y="4148.500">过程</text>
<text class="b" x="527.500" y="4090">面对内心</text><text class="q" x="527.500" y="4128.500">从内心发现创意之源</text>
<text class="b" x="365.500" y="4256">面对他人</text><text class="q" x="365.500" y="4293.500">创意领导之道</text>
</g>

<!-- logo -->
<ellipse cx="364.600" cy="4510" rx="32" ry="31.500" fill="#d9121c"/>
<circle cx="364.600" cy="4510" r="27.500" fill="none" stroke="#fff" stroke-width="1.500"/>
<path d="M345,4530 V4492 Q345,4485 352,4485 Q359,4485 359,4492 V4535 M370,4535 V4492 Q370,4485 377,4485 Q384,4485 384,4492 V4530 M364.600,4483 V4537" fill="none" stroke="#fff" stroke-width="2"/>
<path d="M338,4510 L345,4505 V4515 Z M391,4510 L384,4505 V4515 Z" fill="#fff"/>
<text x="208" y="4587.500" font-size="21" fill="#0b3540" font-weight="500">中信出版集团</text>
<text x="340" y="4587" font-size="18" fill="#0b3540">·</text>
<text x="356" y="4588" font-size="22" textLength="165.500" lengthAdjust="spacingAndGlyphs" fill="#0b3540" style="font-family:'Liberation Sans'">CHINA<tspan fill="#d4202a" font-weight="bold">CITIC</tspan>PRESS</text>

<!-- bottom castle -->
<g>
<polygon points="101,4617 55,4742 148,4742" fill="#3e5a78"/>
<path d="M87,4650 Q100,4643 115,4643 L113,4650 Q100,4649 85,4656 Z M72,4696 Q100,4684 128,4687 L130,4694 Q100,4693 68,4707 Z" fill="#a4b7d3"/>
<polygon points="627.600,4617 582,4742 674,4742" fill="#3e5a78"/>
<path d="M614,4650 Q628,4643 640,4643 L642,4650 Q628,4649 612,4656 Z M598,4696 Q628,4684 655,4687 L657,4694 Q628,4693 594,4707 Z" fill="#a4b7d3"/>
<rect x="45.600" y="4743" width="112.400" height="80.500" fill="#4bac87"/>
<rect x="570" y="4743" width="113.500" height="80.500" fill="#4bac87"/>
<rect x="59" y="4823.500" width="84" height="86" fill="#3a9290"/>
<rect x="584" y="4823.500" width="85.500" height="86" fill="#3a9290"/>
<g fill="#1f5d5e">
<rect x="59" y="4823.500" width="84" height="5"/><rect x="59" y="4836" width="84" height="8"/><rect x="59" y="4858" width="84" height="8"/><rect x="59" y="4879" width="84" height="9"/><rect x="59" y="4900.500" width="84" height="9"/>
<rect x="584" y="4823.500" width="85.500" height="5"/><rect x="584" y="4836" width="85.500" height="8"/><rect x="584" y="4858" width="85.500" height="8"/><rect x="584" y="4879" width="85.500" height="9"/><rect x="584" y="4900.500" width="85.500" height="9"/>
</g>
<rect x="50" y="4910" width="108" height="78" fill="#4bac87"/><rect x="570" y="4910" width="113.500" height="78" fill="#4bac87"/>
<rect x="158" y="4961" width="412" height="27" fill="#4bac87"/>
<path d="M221,4988 L221,4830 C228,4760 295,4716 365,4716 C435,4716 498,4760 510,4830 L512,4988 Z" fill="#4bac87"/>
<circle cx="214" cy="4840" r="15" fill="#b8201f"/><circle cx="198" cy="4840" r="3.500" fill="#2d4968"/>
<path d="M230,4810 C223,4812 219,4818 219,4825 L219,4880 L230,4880 Z" fill="#e02d1e"/>
<circle cx="521" cy="4840" r="15" fill="#b8201f"/><circle cx="536" cy="4840" r="3.500" fill="#2d4968"/>
<path d="M502,4810 C510,4812 514,4818 514,4825 L514,4880 L502,4880 Z" fill="#e02d1e"/>
<rect x="347" y="4668.600" width="40.400" height="67" fill="#e9bb27"/>
<ellipse cx="364" cy="4854" rx="79" ry="78.500" fill="#5fb033"/>
<ellipse cx="364" cy="4854" rx="71" ry="70" fill="#8cbc45"/>
<circle cx="364" cy="4854" r="32" fill="#aed4c2"/><circle cx="364" cy="4854" r="13" fill="#5fb3bc"/><circle cx="364" cy="4854" r="9" fill="#000"/><circle cx="368" cy="4845" r="3" fill="#fff"/>
<ellipse cx="237.500" cy="4887.600" rx="11" ry="24" fill="#c8281d"/>
<ellipse cx="496" cy="4888" rx="11" ry="24" fill="#c8281d"/>
<path d="M238,4880 C210,4888 193,4905 193,4930 L193,4961" fill="none" stroke="#35618f" stroke-width="31"/>
<path d="M238,4880 C210,4888 193,4905 193,4930 L193,4961" fill="none" stroke="#6a8fb8" stroke-width="18" stroke-dasharray="15 3"/>
<path d="M492,4880 C520,4888 542,4905 542,4930 L542,4961" fill="none" stroke="#35618f" stroke-width="31"/>
<path d="M492,4880 C520,4888 542,4905 542,4930 L542,4961" fill="none" stroke="#6a8fb8" stroke-width="18" stroke-dasharray="15 3"/>
</g>
</svg>
</body></html>
